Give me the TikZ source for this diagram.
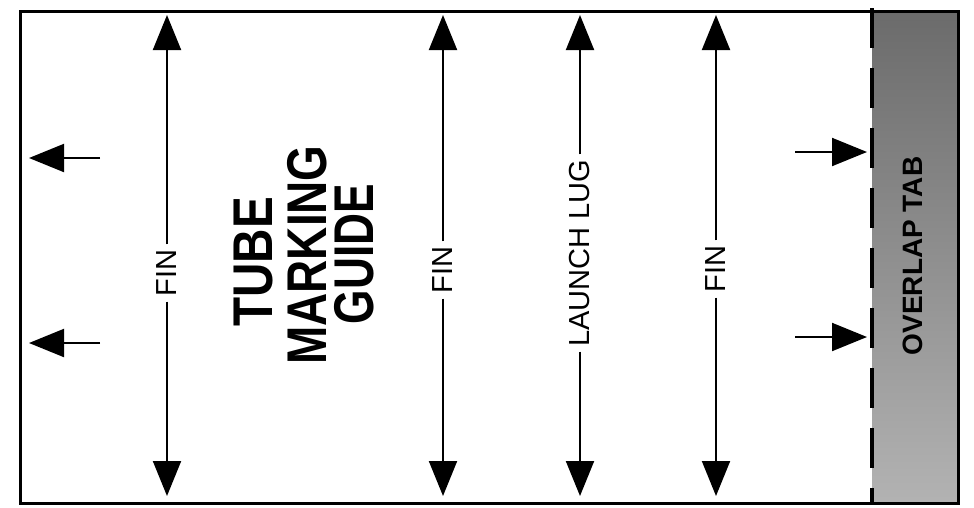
\documentclass[tikz,border=0pt]{standalone}
\usepackage{fontspec}
\setmainfont{Liberation Sans}
\usetikzlibrary{arrows.meta}
\tikzset{
  bigarrow/.style={line width=2pt,-{Triangle[length=35pt,width=28pt]}},
  lbl/.style={rotate=90,inner sep=5pt,font=\fontsize{29}{30}\selectfont},
  ttl/.style={rotate=90,inner sep=0pt,font=\fontsize{56}{60}\selectfont\bfseries},
  frame/.style={line width=3pt},
}
\begin{document}
\begin{tikzpicture}[x=1pt,y=-1pt]
\useasboundingbox (0,0) rectangle (974,507);
% overlap tab
\shade[top color=black!58,bottom color=black!30] (872,11) rectangle (958,503);
\node[rotate=90,inner sep=0pt,font=\fontsize{28}{30}\selectfont\bfseries] (tab) at (913,256) {OVERLAP TAB};
% outer frame
\draw[frame] (20,11) rectangle (958,503);
\draw[line width=4pt,dash pattern=on 40pt off 20pt] (872,8) -- (872,503);
% title
\node[ttl] (t1) at (254,262) {\scalebox{0.85}[1]{TUBE}};
\node[ttl] (t2) at (307,255) {\scalebox{0.82}[1]{MARKING}};
\node[ttl] (t3) at (354,254) {\scalebox{0.79}[1]{GUIDE}};
% vertical arrows
\foreach \n/\x/\y/\t in {a/167/273/FIN, b/443/270/FIN, c/580/253/LAUNCH LUG, d/716/269/FIN}{
  \coordinate (\n top) at (\x,15);
  \coordinate (\n bot) at (\x,496);
  \node[lbl] (\n lab) at (\x,\y) {\t};
  \draw[bigarrow] (\n lab) -- (\n top);
  \draw[bigarrow] (\n lab) -- (\n bot);
}
% horizontal arrows
\coordinate (l1s) at (100,158); \coordinate (l1e) at (29,158);
\coordinate (l2s) at (100,343); \coordinate (l2e) at (29,343);
\coordinate (r1s) at (795,152); \coordinate (r1e) at (867,152);
\coordinate (r2s) at (795,337); \coordinate (r2e) at (867,337);
\draw[bigarrow] (l1s) -- (l1e);
\draw[bigarrow] (l2s) -- (l2e);
\draw[bigarrow] (r1s) -- (r1e);
\draw[bigarrow] (r2s) -- (r2e);
\end{tikzpicture}
\end{document}
